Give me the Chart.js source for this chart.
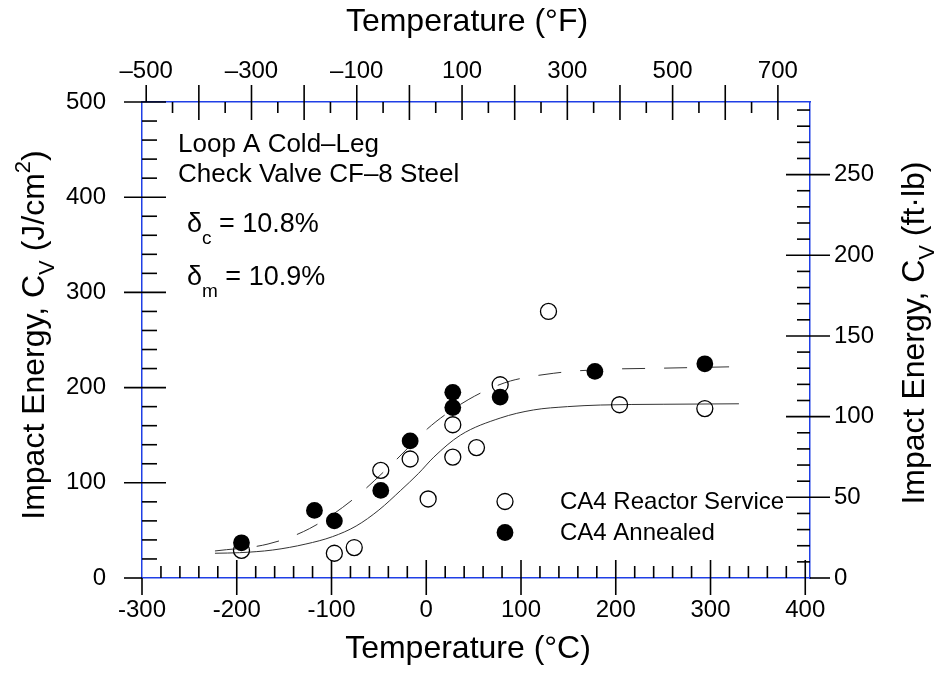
<!DOCTYPE html>
<html>
<head>
<meta charset="utf-8">
<script src="https://cdn.jsdelivr.net/npm/chart.js@4.4.0/dist/chart.umd.min.js"></script>
<style>
html, body { margin: 0; padding: 0; background: #fff; }
canvas { display: block; }
</style>
</head>
<body>
<canvas id="chart" width="936" height="674"></canvas>
<script>
// CA4 reactor service specimens (open circles): temperature in C, energy in J/cm2
var serviceTemp = [-195, -97, -76, -48, -17, 2, 28, 28, 53, 78, 129, 204, 294];
var serviceEnergy = [29, 26, 32, 113, 125, 83, 161, 127, 137, 203, 280, 182, 178];

// CA4 annealed specimens (filled circles)
var annealTemp = [-195, -118, -97, -48, -17, 28, 28, 78, 178, 294];
var annealEnergy = [37, 71, 60, 92, 144, 195, 179, 190, 217, 225];

// fitted curves
var serviceFitTemp = [-223, -197, -162, -127, -99, -74, -50, -27, -8, 8, 36, 78, 113, 149, 184, 250, 330];
var serviceFitEnergy = [26, 26.6, 29.4, 35.7, 43.4, 54.6, 71.4, 92, 110, 127, 150, 168, 176.5, 180, 181.7, 182.5, 183];
var annealFitTemp = [-223, -167, -123, -78, -36, 1, 22, 45, 68, 89, 113, 134, 157, 198, 243, 330];
var annealFitEnergy = [28.4, 35.7, 52, 82, 120, 156.5, 173, 187.7, 199.3, 207, 212, 215, 217.4, 219.5, 220.3, 222];

// tick values
var cTicks = [-300, -200, -100, 0, 100, 200, 300, 400];
var fTicks = [-500, -300, -100, 100, 300, 500, 700];
var jTicks = [0, 100, 200, 300, 400, 500];
var ftlbTicks = [0, 50, 100, 150, 200, 250];

var seriesNames = ['CA4 Reactor Service', 'CA4 Annealed'];

var FONT = 'Liberation Sans, Arial, Helvetica, sans-serif';
var BLUE = '#1f3fe6';
var J_PER_FTLB = 1.695;   // 1 ft-lb on a 0.8 cm2 ligament
var C_MIN = -300, C_MAX = 405;

function pts(xs, ys) {
  return xs.map(function (x, i) { return { x: x, y: ys[i] }; });
}
function fixTicks(values) {
  return function (scale) {
    scale.ticks = values.map(function (v) { return { value: v }; });
  };
}
function toF(c) { return c * 1.8 + 32; }

// draw a run of text with sub/superscripts: parts = [text, scale, dy(em)]
function rich(ctx, parts, x, y, size, align) {
  var w = 0;
  parts.forEach(function (p) {
    ctx.font = Math.round(size * (p[1] || 1)) + 'px ' + FONT;
    w += ctx.measureText(p[0]).width;
  });
  var cx = align === 'center' ? x - w / 2 : x;
  parts.forEach(function (p) {
    ctx.font = Math.round(size * (p[1] || 1)) + 'px ' + FONT;
    ctx.fillText(p[0], cx, y + (p[2] || 0) * size);
    cx += ctx.measureText(p[0]).width;
  });
}

var frameTicks = {
  id: 'frameTicks',
  afterDraw: function (chart) {
    var ctx = chart.ctx, a = chart.chartArea, s = chart.scales;
    var v, p;
    ctx.save();
    ctx.strokeStyle = '#000';
    ctx.lineWidth = 1.6;
    function seg(x1, y1, x2, y2) {
      ctx.beginPath(); ctx.moveTo(x1, y1); ctx.lineTo(x2, y2); ctx.stroke();
    }
    // bottom, deg C
    for (v = -300; v <= 400; v += 20) {
      p = s.x.getPixelForValue(v);
      if (v === -300) seg(p, a.bottom, p, a.bottom + 17);
      else if (v % 100 === 0) seg(p, a.bottom - 18, p, a.bottom + 17);
      else seg(p, a.bottom - 12, p, a.bottom);
    }
    // top, deg F
    for (v = -500; v <= 700; v += 50) {
      p = s.xF.getPixelForValue(v);
      if (v === -500) seg(p, a.top - 17, p, a.top);
      else if (v % 100 === 0) seg(p, a.top - 17, p, a.top + 18);
      else seg(p, a.top, p, a.top + 11);
    }
    // left, J/cm2
    for (v = 0; v <= 500; v += 20) {
      p = s.y.getPixelForValue(v);
      if (v % 100 === 0) seg(a.left - 18, p, a.left + (v === 0 ? 0 : 24), p);
      else seg(a.left, p, a.left + 15, p);
    }
    // right, ft-lb
    for (v = 0; v <= 290; v += 10) {
      p = s.yFt.getPixelForValue(v);
      if (v % 50 === 0) seg(a.right - (v === 0 ? 0 : 24), p, a.right + 20, p);
      else seg(a.right - 13, p, a.right, p);
    }
    ctx.restore();
  }
};

var labels = {
  id: 'labels',
  afterDraw: function (chart) {
    var ctx = chart.ctx;
    ctx.save();
    ctx.fillStyle = '#000';
    ctx.textBaseline = 'alphabetic';

    // axis titles
    rich(ctx, [['Temperature (\u00B0F)']], 467, 31, 32, 'center');
    rich(ctx, [['Temperature (\u00B0C)']], 468, 658, 32, 'center');

    ctx.save();
    ctx.translate(44, 335);
    ctx.rotate(-Math.PI / 2);
    rich(ctx, [['Impact Energy, C'], ['V', 0.7, 0.3], [' (J/cm'], ['2', 0.7, -0.45], [')']], 0, 0, 32, 'center');
    ctx.restore();

    ctx.save();
    ctx.translate(924, 333);
    ctx.rotate(-Math.PI / 2);
    rich(ctx, [['Impact Energy, C'], ['V', 0.7, 0.3], [' (ft\u00B7lb)']], 0, 0, 32, 'center');
    ctx.restore();

    // notes in the plot
    rich(ctx, [['Loop A Cold\u2013Leg']], 178, 152, 26, 'left');
    rich(ctx, [['Check Valve CF\u20138 Steel']], 178, 182, 26, 'left');
    rich(ctx, [['\u03B4'], ['c', 0.72, 0.45], [' = 10.8%']], 187, 232, 27, 'left');
    rich(ctx, [['\u03B4'], ['m', 0.72, 0.45], [' = 10.9%']], 187, 285, 27, 'left');

    // legend
    ctx.textBaseline = 'middle';
    ctx.font = '24px ' + FONT;
    ctx.fillText(seriesNames[0], 560, 502);
    ctx.fillText(seriesNames[1], 560, 533);
    ctx.lineWidth = 1.3;
    ctx.strokeStyle = '#000';
    ctx.beginPath(); ctx.arc(505, 501.5, 8, 0, Math.PI * 2); ctx.stroke();
    ctx.beginPath(); ctx.arc(505, 532.5, 8.4, 0, Math.PI * 2); ctx.fill();
    ctx.restore();
  }
};

var tickFont = { family: FONT, size: 24 };

new Chart(document.getElementById('chart').getContext('2d'), {
  type: 'scatter',
  data: {
    datasets: [
      {
        label: seriesNames[1],
        data: pts(annealTemp, annealEnergy),
        backgroundColor: '#000',
        borderColor: '#000',
        borderWidth: 0,
        pointRadius: 8.4,
        pointStyle: 'circle'
      },
      {
        label: seriesNames[0],
        data: pts(serviceTemp, serviceEnergy),
        backgroundColor: 'rgba(0,0,0,0)',
        borderColor: '#000',
        borderWidth: 1.3,
        pointRadius: 8,
        pointStyle: 'circle'
      },
      {
        label: 'annealed fit',
        data: pts(annealFitTemp, annealFitEnergy),
        showLine: true,
        borderColor: '#333',
        borderWidth: 1,
        borderDash: [23, 19],
        pointRadius: 0,
        cubicInterpolationMode: 'monotone'
      },
      {
        label: 'service fit',
        data: pts(serviceFitTemp, serviceFitEnergy),
        showLine: true,
        borderColor: '#333',
        borderWidth: 1,
        pointRadius: 0,
        cubicInterpolationMode: 'monotone'
      }
    ]
  },
  options: {
    responsive: false,
    devicePixelRatio: 1,
    animation: false,
    layout: { padding: 0 },
    plugins: { legend: { display: false }, tooltip: { enabled: false } },
    scales: {
      x: {
        type: 'linear', position: 'bottom', min: C_MIN, max: C_MAX,
        afterBuildTicks: fixTicks(cTicks),
        afterFit: function (s) { s.height = 96; },
        grid: { display: false, drawTicks: false },
        border: { display: true, color: BLUE, width: 1.5 },
        ticks: { font: tickFont, color: '#000', padding: 18, maxRotation: 0,
                 callback: function (v) { return String(v); } }
      },
      xF: {
        type: 'linear', position: 'top', min: toF(C_MIN), max: toF(C_MAX),
        afterBuildTicks: fixTicks(fTicks),
        afterFit: function (s) { s.height = 102; },
        grid: { display: false, drawTicks: false },
        border: { display: true, color: BLUE, width: 1.5 },
        ticks: { font: tickFont, color: '#000', padding: 16, maxRotation: 0,
                 callback: function (v) { return v < 0 ? '\u2013' + (-v) : String(v); } }
      },
      y: {
        type: 'linear', position: 'left', min: 0, max: 500,
        afterBuildTicks: fixTicks(jTicks),
        afterFit: function (s) { s.width = 142; },
        grid: { display: false, drawTicks: false },
        border: { display: true, color: BLUE, width: 1.5 },
        ticks: { font: tickFont, color: '#000', padding: 36,
                 callback: function (v) { return String(v); } }
      },
      yFt: {
        type: 'linear', position: 'right', min: 0, max: 500 / J_PER_FTLB,
        afterBuildTicks: fixTicks(ftlbTicks),
        afterFit: function (s) { s.width = 126; },
        grid: { display: false, drawTicks: false },
        border: { display: true, color: BLUE, width: 1.5 },
        ticks: { font: tickFont, color: '#000', padding: 24,
                 callback: function (v) { return String(v); } }
      }
    }
  },
  plugins: [frameTicks, labels]
});
</script>
</body>
</html>
